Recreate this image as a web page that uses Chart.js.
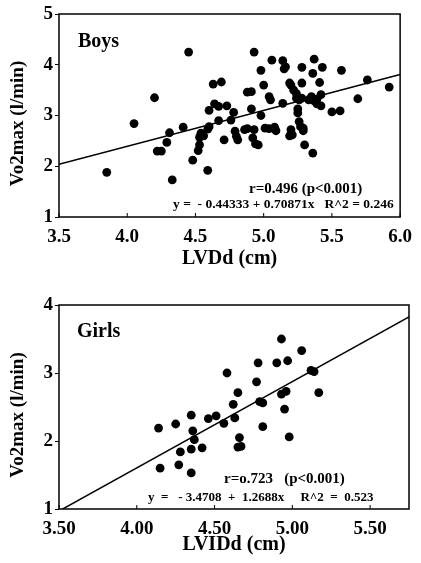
<!DOCTYPE html>
<html>
<head>
<meta charset="utf-8">
<script src="https://cdn.jsdelivr.net/npm/chart.js@4.4.0/dist/chart.umd.min.js"></script>
<style>
  html, body { margin: 0; padding: 0; background: #fff; }
  .panel { position: absolute; left: 0; width: 421px; }
  #boys-panel { top: 0; height: 280px; }
  #girls-panel { top: 290px; height: 273px; }
</style>
</head>
<body>
<div class="panel" id="boys-panel"><canvas id="boys-chart"></canvas></div>
<div class="panel" id="girls-panel"><canvas id="girls-chart"></canvas></div>
<script>
// Boys: LV diastolic dimension (cm) vs VO2max (l/min)
const boysLVDd = [
  3.85, 4.05, 4.20, 4.22, 4.25, 4.29, 4.31, 4.33, 4.41, 4.45,
  4.48, 4.52, 4.53, 4.53, 4.54, 4.56, 4.59, 4.59, 4.60, 4.60,
  4.63, 4.64, 4.67, 4.67, 4.69, 4.71, 4.73, 4.76, 4.78, 4.79,
  4.80, 4.81, 4.86, 4.88, 4.88, 4.91, 4.91, 4.92, 4.93, 4.93,
  4.94, 4.96, 4.98, 4.98, 5.00, 5.01, 5.04, 5.04, 5.05, 5.06,
  5.08, 5.09, 5.14, 5.14, 5.15, 5.16, 5.19, 5.19, 5.20, 5.20,
  5.21, 5.22, 5.24, 5.24, 5.25, 5.25, 5.26, 5.26, 5.27, 5.28,
  5.28, 5.28, 5.29, 5.29, 5.30, 5.33, 5.35, 5.36, 5.36, 5.37,
  5.37, 5.39, 5.39, 5.41, 5.42, 5.42, 5.43, 5.50, 5.56, 5.57,
  5.69, 5.76, 5.92
];
const boysVo2 = [
  1.88, 2.84, 3.35, 2.30, 2.30, 2.47, 2.66, 1.73, 2.77, 4.25,
  2.12, 2.31, 2.42, 2.57, 2.65, 2.60, 2.73, 1.92, 2.78, 3.10,
  3.62, 3.23, 2.90, 3.18, 3.66, 2.52, 3.19, 2.91, 3.06, 2.69,
  2.59, 2.52, 2.72, 2.74, 3.46, 3.47, 3.13, 2.56, 2.72, 4.25,
  2.44, 2.42, 3.00, 3.89, 3.60, 2.75, 2.74, 3.37, 3.31, 4.09,
  2.77, 2.70, 4.08, 3.24, 3.92, 3.96, 3.64, 2.60, 2.72, 3.60,
  2.62, 3.50, 3.43, 3.34, 3.13, 3.05, 2.88, 3.31, 2.78, 3.64,
  3.34, 3.95, 2.75, 2.70, 2.42, 3.31, 3.37, 3.83, 2.26, 3.29,
  4.11, 3.32, 3.23, 3.65, 3.19, 3.41, 3.95, 3.07, 3.09, 3.89,
  3.33, 3.70, 3.56
];
const boysFit = { intercept: -0.44333, slope: 0.70871 };
const boysXTicks = [3.5, 4.0, 4.5, 5.0, 5.5, 6.0];
const boysYTicks = [1, 2, 3, 4, 5];

// Girls: LVIDd (cm) vs VO2max (l/min)
const girlsLVIDd = [
  4.14, 4.15, 4.25, 4.27, 4.28, 4.35, 4.35, 4.35, 4.36, 4.37,
  4.42, 4.46, 4.51, 4.56, 4.58, 4.62, 4.63, 4.65, 4.66, 4.65,
  4.67, 4.77, 4.78, 4.79, 4.81, 4.81, 4.90, 4.93, 4.93, 4.96,
  4.95, 4.97, 4.98, 5.06, 5.12, 5.14, 5.17
];
const girlsVo2 = [
  2.19, 1.60, 2.25, 1.65, 1.84, 2.38, 1.53, 1.88, 2.15, 2.02,
  1.90, 2.33, 2.37, 2.26, 3.00, 2.54, 2.34, 2.71, 2.05, 1.91,
  1.92, 2.87, 3.15, 2.58, 2.56, 2.21, 3.15, 3.50, 2.69, 2.73,
  2.47, 3.18, 2.06, 3.33, 3.04, 3.02, 2.71
];
const girlsFit = { intercept: -3.4708, slope: 1.2688 };
const girlsXTicks = [3.5, 4.0, 4.5, 5.0, 5.5];
const girlsYTicks = [1, 2, 3, 4];

const serif = '"Liberation Serif", "Times New Roman", serif';

// Box around the plot area, small inward ticks on the bottom edge, the text notes
// and the y title (drawn here so it can sit a little below the middle)
const framePlugin = {
  id: "frame",
  afterDatasetsDraw(chart, args, opts) {
    const { ctx, chartArea: a, scales } = chart;
    ctx.save();
    ctx.strokeStyle = "#000";
    ctx.lineWidth = 1.5;
    ctx.strokeRect(a.left, a.top, a.right - a.left, a.bottom - a.top);
    ctx.lineWidth = 1;
    scales.x.ticks.forEach((t) => {
      const px = scales.x.getPixelForValue(t.value);
      ctx.beginPath();
      ctx.moveTo(px, a.bottom);
      ctx.lineTo(px, a.bottom - 4);
      ctx.stroke();
    });
    ctx.fillStyle = "#000";
    ctx.textBaseline = "alphabetic";
    (opts.notes || []).forEach((n) => {
      ctx.font = `bold ${n.size}px ${serif}`;
      const y = n.fromBottom ? a.bottom - n.dy : a.top + n.dy;
      ctx.fillText(n.text, a.left + n.dx, y);
    });

    ctx.translate(18, (a.top + a.bottom) / 2 + 8);
    ctx.rotate(-Math.PI / 2);
    ctx.font = `bold 19px ${serif}`;
    ctx.textAlign = "center";
    ctx.textBaseline = "middle";
    ctx.fillText(opts.yTitle, 0, 0);
    ctx.restore();
  },
};

function scatterChart(id, opts) {
  const points = opts.xs.map((x, i) => ({ x: x, y: opts.ys[i] }));
  const [x0, x1] = opts.fitRange;
  const fitLine = [x0, x1].map((x) => ({ x: x, y: opts.fit.intercept + opts.fit.slope * x }));
  const tickFont = { family: serif, size: 19, weight: "bold" };

  return new Chart(document.getElementById(id), {
    type: "scatter",
    data: {
      datasets: [
        {
          data: points,
          pointRadius: 4.4,
          pointBackgroundColor: "#000",
          pointBorderWidth: 0,
        },
        {
          data: fitLine,
          showLine: true,
          borderColor: "#000",
          borderWidth: 1.5,
          pointRadius: 0,
        },
      ],
    },
    options: {
      responsive: true,
      maintainAspectRatio: false,
      devicePixelRatio: 1,
      animation: false,
      layout: { padding: { top: opts.padTop, right: 12, left: 0, bottom: 0 } },
      plugins: {
        legend: { display: false },
        tooltip: { enabled: false },
        frame: { notes: opts.notes, yTitle: "Vo2max (l/min)" },
      },
      scales: {
        x: {
          type: "linear",
          min: opts.xMin,
          max: opts.xMax,
          afterBuildTicks: (s) => { s.ticks = opts.xTicks.map((v) => ({ value: v })); },
          afterFit: (s) => { s.height = opts.xAxisHeight; },
          grid: { display: false, drawTicks: false },
          border: { display: false },
          ticks: {
            color: "#000",
            padding: 9,
            maxRotation: 0,
            font: tickFont,
            callback: (v) => v.toFixed(opts.xDigits),
          },
          title: {
            display: true,
            text: opts.xTitle,
            color: "#000",
            font: { family: serif, size: 20, weight: "bold" },
            padding: { top: 0, bottom: opts.xTitlePad },
          },
        },
        y: {
          min: opts.yMin,
          max: opts.yMax,
          afterBuildTicks: (s) => { s.ticks = opts.yTicks.map((v) => ({ value: v })); },
          afterFit: (s) => { s.width = 59; },
          grid: { display: true, drawOnChartArea: false, drawTicks: true, tickLength: 4, color: "#000" },
          border: { display: false },
          ticks: { color: "#000", padding: 2, font: tickFont },
        },
      },
    },
    plugins: [framePlugin],
  });
}

scatterChart("boys-chart", {
  xs: boysLVDd,
  ys: boysVo2,
  fit: boysFit,
  fitRange: [3.5, 6.0],
  xMin: 3.5, xMax: 6.0, xTicks: boysXTicks, xDigits: 1,
  yMin: 1, yMax: 5, yTicks: boysYTicks,
  xTitle: "LVDd (cm)",
  padTop: 14, xAxisHeight: 63, xTitlePad: 9,
  notes: [
    { text: "Boys", size: 20, dx: 19, dy: 33 },
    { text: "r=0.496 (p<0.001)", size: 15, dx: 190, dy: 24, fromBottom: true },
    { text: "y =  - 0.44333 + 0.70871x   R^2 = 0.246", size: 13.5, dx: 114, dy: 9, fromBottom: true },
  ],
});

scatterChart("girls-chart", {
  xs: girlsLVIDd,
  ys: girlsVo2,
  fit: girlsFit,
  fitRange: [3.5, 5.75],
  xMin: 3.5, xMax: 5.75, xTicks: girlsXTicks, xDigits: 2,
  yMin: 1, yMax: 4, yTicks: girlsYTicks,
  xTitle: "LVIDd (cm)",
  padTop: 15, xAxisHeight: 54, xTitlePad: 6,
  notes: [
    { text: "Girls", size: 20, dx: 18, dy: 32 },
    { text: "r=o.723   (p<0.001)", size: 15, dx: 165, dy: 26, fromBottom: true },
    { text: "y  =   - 3.4708  +  1.2688x     R^2  =  0.523", size: 13, dx: 89, dy: 8, fromBottom: true },
  ],
});
</script>
</body>
</html>
